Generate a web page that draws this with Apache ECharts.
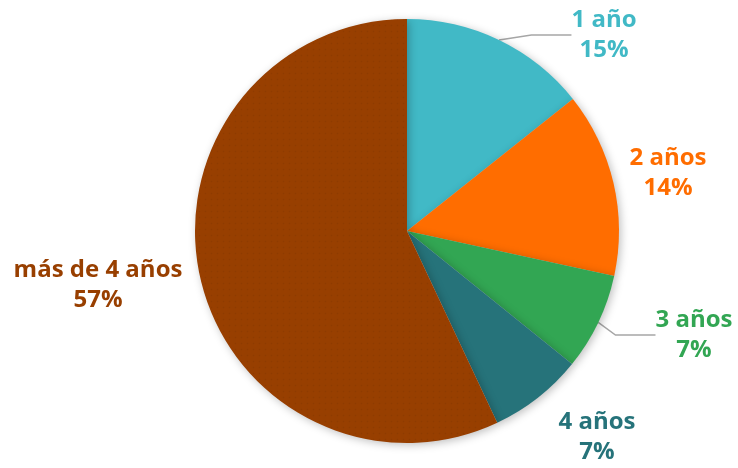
<!DOCTYPE html>
<html><head><meta charset="utf-8">
<script src="https://cdn.jsdelivr.net/npm/echarts@6/dist/echarts.min.js"></script>
<style>html,body{margin:0;padding:0;background:#fff}#c{width:738px;height:468px}</style>
</head><body><div id="c"></div>
<script>
const categories = ['1 año', '2 años', '3 años', '4 años', 'más de 4 años'];
const values = [14.3, 14.1, 7.4, 7.2, 57.0];
const pctLabels = ['15%', '14%', '7%', '7%', '57%'];
const colors = ['#41B9C6', '#FF6D00', '#32A653', '#26737A', '#983F00'];
const labelPos = [[604, 35], [668, 173], [694, 335], [597, 437], [98, 285]];

const chart = echarts.init(document.getElementById('c'));
chart.setOption({
  animation: false,
  series: [{
    type: 'pie',
    center: [407, 231],
    radius: [0, 212],
    startAngle: 90,
    clockwise: true,
    data: categories.map((n, i) => ({
      name: n, value: values[i],
      itemStyle: {
        color: colors[i],
        decal: i === 4 ? { symbol: 'rect', symbolSize: 0.5, color: 'rgba(0,0,0,0.06)', dashArrayX: [3, 3], dashArrayY: [3, 3] } : null
      },
      label: { color: colors[i] },
      labelLine: { show: i === 0 || i === 2 }
    })),
    itemStyle: { borderWidth: 0, shadowBlur: 8, shadowColor: 'rgba(0,0,0,0.25)', shadowOffsetX: 2, shadowOffsetY: 2 },
    label: {
      show: true,
      formatter: p => p.name + '\n' + pctLabels[p.dataIndex],
      fontFamily: 'Open Sans',
      fontWeight: 'bold',
      fontSize: 24,
      lineHeight: 30,
      align: 'center',
      overflow: 'none'
    },
    labelLine: { lineStyle: { color: '#A6A6A6', width: 1.5 }, length: 20, length2: 40 },
    labelLayout: function (p) {
      const pos = labelPos[p.dataIndex];
      return { x: pos[0], y: pos[1], align: 'center', verticalAlign: 'middle' };
    }
  }]
});
</script></body></html>
